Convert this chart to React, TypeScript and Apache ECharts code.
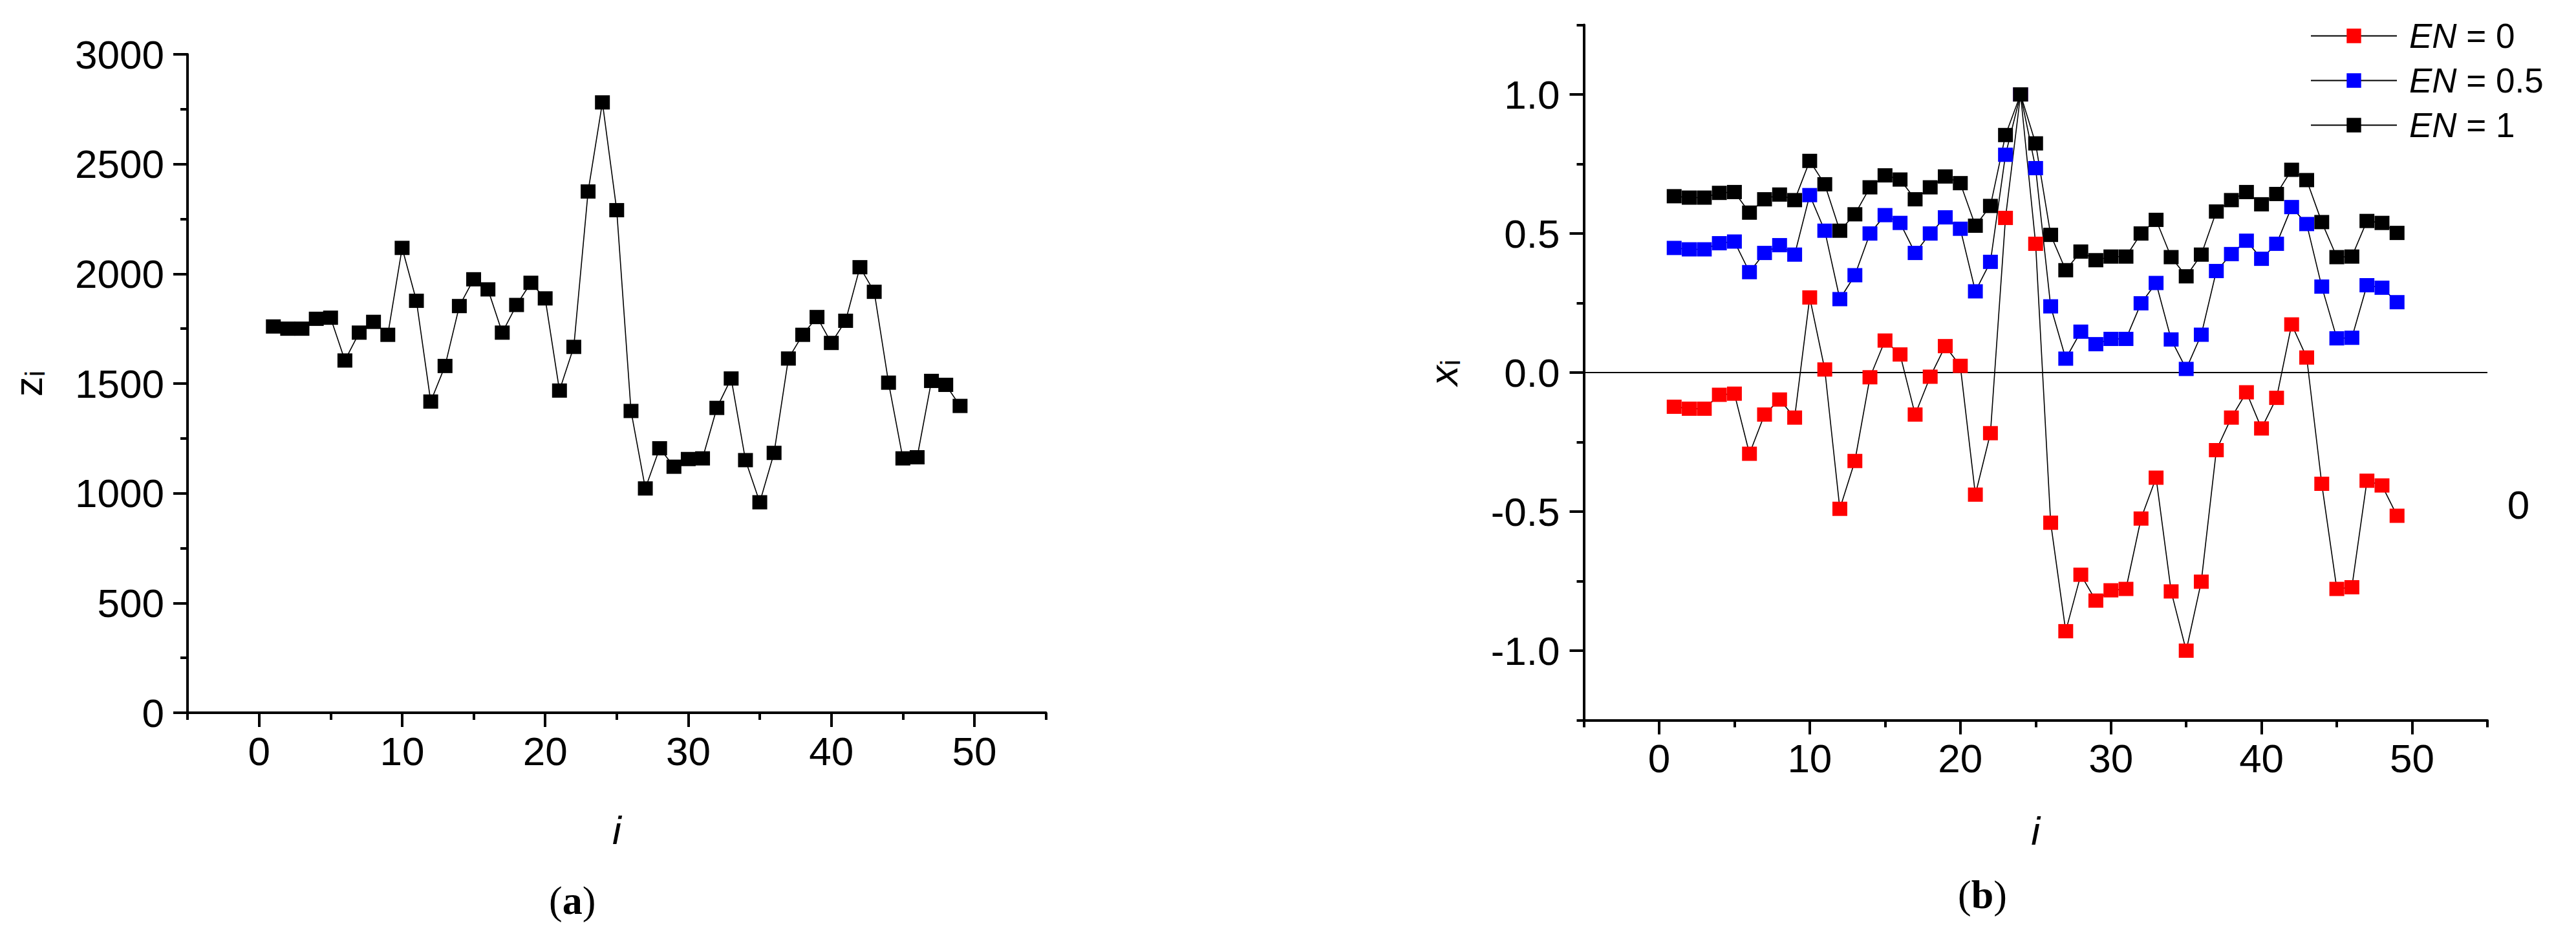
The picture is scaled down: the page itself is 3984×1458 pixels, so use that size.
import React, { useEffect, useRef } from "react";
import * as echarts from "echarts";

const I_VALUES = [1,2,3,4,5,6,7,8,9,10,11,12,13,14,15,16,17,18,19,20,21,22,23,24,25,26,27,28,29,30,31,32,33,34,35,36,37,38,39,40,41,42,43,44,45,46,47,48,49];

const Z_VALUES = [1760,1750,1750,1795,1800,1605,1732,1781,1722,2118,1877,1418,1580,1853,1975,1929,1732,1858,1959,1888,1468,1667,2375,2781,2290,1375,1022,1205,1121,1156,1159,1389,1523,1151,959,1184,1614,1722,1803,1685,1786,2030,1918,1504,1159,1164,1512,1494,1398];

const EN0_VALUES = [-0.123,-0.13,-0.13,-0.08,-0.076,-0.292,-0.151,-0.097,-0.162,0.27,0.011,-0.49,-0.318,-0.017,0.115,0.065,-0.151,-0.015,0.095,0.024,-0.439,-0.218,0.556,1.0,0.463,-0.54,-0.93,-0.727,-0.82,-0.783,-0.778,-0.525,-0.378,-0.787,-1.0,-0.752,-0.279,-0.162,-0.071,-0.201,-0.091,0.173,0.054,-0.4,-0.778,-0.772,-0.389,-0.406,-0.515];

const EN05_VALUES = [0.448,0.443,0.443,0.465,0.471,0.361,0.43,0.458,0.424,0.638,0.51,0.264,0.35,0.5,0.566,0.538,0.43,0.5,0.558,0.517,0.292,0.398,0.783,1.0,0.735,0.238,0.05,0.147,0.102,0.121,0.121,0.249,0.322,0.119,0.013,0.136,0.365,0.426,0.474,0.409,0.463,0.595,0.534,0.309,0.123,0.125,0.314,0.305,0.253];

const EN1_VALUES = [0.634,0.629,0.629,0.646,0.649,0.575,0.623,0.64,0.62,0.761,0.677,0.51,0.569,0.666,0.709,0.694,0.623,0.666,0.705,0.681,0.528,0.599,0.854,1.0,0.824,0.495,0.368,0.435,0.404,0.417,0.417,0.5,0.549,0.415,0.346,0.424,0.579,0.62,0.649,0.605,0.642,0.729,0.692,0.541,0.415,0.417,0.545,0.538,0.502];

const SERIES_NAMES = ["EN = 0", "EN = 0.5", "EN = 1"];
const SERIES_COLORS = ["#ff0000", "#0000ff", "#000000"];

const X_MAJOR_TICKS = [0, 10, 20, 30, 40, 50];
const X_MINOR_TICKS = [-5, 5, 15, 25, 35, 45, 55];
const XI_MAJOR_TICKS = [-1, -0.5, 0, 0.5, 1];
const XI_MINOR_TICKS = [-1.25, -0.75, -0.25, 0.25, 0.75, 1.25];

const SANS = "'Liberation Sans', Arial, sans-serif";
const SERIF = "'Liberation Serif', 'Times New Roman', serif";
const AXIS_W = 4;
const LABEL_SIZE = 62;

function pairs(ys: number[]) {
  return I_VALUES.map((x, k) => [x, ys[k]]);
}

export default function App() {
  const ref = useRef<HTMLDivElement>(null);

  useEffect(() => {
    if (!ref.current) return;
    const chart = echarts.init(ref.current, null, { renderer: "svg" });

    const axisLine = { show: true, onZero: false, lineStyle: { color: "#000", width: AXIS_W } };
    const hiddenLine = { show: false, onZero: false };
    const majorTick = (vals: number[]) => ({
      show: true,
      customValues: vals,
      length: 22,
      lineStyle: { color: "#000", width: AXIS_W },
    });
    const minorTickAxis = (vals: number[]) => ({
      show: true,
      customValues: vals,
      length: 11,
      lineStyle: { color: "#000", width: AXIS_W },
    });
    const labelStyle = {
      color: "#000",
      fontSize: LABEL_SIZE,
      fontFamily: SANS,
    };

    const lineSeries = (name: string, data: number[][], color: string, xi: number, yi: number) => ({
      name,
      type: "line",
      xAxisIndex: xi,
      yAxisIndex: yi,
      data,
      symbol: "rect",
      symbolSize: [23, 22],
      itemStyle: { color },
      lineStyle: { color: "#000", width: 1.6 },
      emphasis: { disabled: true },
    });

    const option: any = {
      animation: false,
      backgroundColor: "#fff",
      grid: [
        { left: 290, top: 84, width: 1327.6, height: 1018, containLabel: false },
        { left: 2449.5, top: 38.5, width: 1397.5, height: 1075, containLabel: false },
      ],
      xAxis: [
        {
          gridIndex: 0,
          type: "value",
          position: "bottom",
          min: -5,
          max: 55,
          axisLine,
          axisTick: majorTick(X_MAJOR_TICKS),
          axisLabel: { ...labelStyle, customValues: X_MAJOR_TICKS, margin: 28 },
          splitLine: { show: false },
          name: "i",
          nameLocation: "middle",
          nameGap: 150,
          nameTextStyle: { ...labelStyle, fontStyle: "italic" },
        },
        {
          gridIndex: 0,
          type: "value",
          position: "bottom",
          min: -5,
          max: 55,
          axisLine: hiddenLine,
          axisTick: minorTickAxis(X_MINOR_TICKS),
          axisLabel: { show: false },
          splitLine: { show: false },
        },
        {
          gridIndex: 1,
          type: "value",
          position: "bottom",
          min: -5,
          max: 55,
          axisLine,
          axisTick: majorTick(X_MAJOR_TICKS),
          axisLabel: { ...labelStyle, customValues: X_MAJOR_TICKS, margin: 28 },
          splitLine: { show: false },
          name: "i",
          nameLocation: "middle",
          nameGap: 140,
          nameTextStyle: { ...labelStyle, fontStyle: "italic" },
        },
        {
          gridIndex: 1,
          type: "value",
          position: "bottom",
          min: -5,
          max: 55,
          axisLine: hiddenLine,
          axisTick: minorTickAxis(X_MINOR_TICKS),
          axisLabel: { show: false },
          splitLine: { show: false },
        },
      ],
      yAxis: [
        {
          gridIndex: 0,
          type: "value",
          position: "left",
          min: 0,
          max: 3000,
          interval: 500,
          axisLine,
          axisTick: { show: true, length: 22, lineStyle: { color: "#000", width: AXIS_W } },
          minorTick: { show: true, splitNumber: 2, length: 11, lineStyle: { color: "#000", width: AXIS_W } },
          minorSplitLine: { show: false },
          axisLabel: { ...labelStyle, margin: 36, formatter: (v: number) => String(v) },
          splitLine: { show: false },
          name: "{v|z}{s|i}",
          nameLocation: "middle",
          nameGap: 215,
          nameRotate: 90,
          nameTextStyle: {
            rich: {
              v: { fontSize: 62, fontFamily: SANS, color: "#000" },
              s: { fontSize: 42, fontFamily: SANS, color: "#000", padding: [22, 0, 0, 0] },
            },
          },
        },
        {
          gridIndex: 1,
          type: "value",
          position: "left",
          min: -1.25,
          max: 1.25,
          axisLine,
          axisTick: majorTick(XI_MAJOR_TICKS),
          axisLabel: {
            ...labelStyle,
            customValues: XI_MAJOR_TICKS,
            margin: 37,
            formatter: (v: number) => v.toFixed(1),
          },
          splitLine: { show: false },
          name: "{v|x}{s|i}",
          nameLocation: "middle",
          nameGap: 185,
          nameRotate: 90,
          nameTextStyle: {
            rich: {
              v: { fontSize: 62, fontFamily: SANS, fontStyle: "italic", color: "#000" },
              s: { fontSize: 42, fontFamily: SANS, color: "#000", padding: [22, 0, 0, 0] },
            },
          },
        },
        {
          gridIndex: 1,
          type: "value",
          position: "left",
          min: -1.25,
          max: 1.25,
          axisLine: hiddenLine,
          axisTick: minorTickAxis(XI_MINOR_TICKS),
          axisLabel: { show: false },
          splitLine: { show: false },
        },
      ],
      legend: {
        data: SERIES_NAMES,
        orient: "vertical",
        left: 3573,
        top: 29,
        padding: 0,
        itemWidth: 133,
        itemHeight: 28,
        itemGap: 16,
        formatter: (name: string) => "{it|EN}" + name.slice(2),
        textStyle: {
          color: "#000",
          fontSize: 53,
          fontFamily: SANS,
          lineHeight: 53,
          padding: [0, 0, 0, 14],
          rich: {
            it: { fontStyle: "italic", fontSize: 53, fontFamily: SANS, color: "#000" },
          },
        },
      },
      graphic: [
        {
          type: "text",
          left: 889 - 40,
          top: 1395 - 34,
          style: {
            text: "{n|(}{b|a}{n|)}",
            rich: {
              n: { fontFamily: SERIF, fontSize: 62, fill: "#000" },
              b: { fontFamily: SERIF, fontSize: 62, fontWeight: "bold", fill: "#000" },
            },
          },
        },
        {
          type: "text",
          left: 3068 - 40,
          top: 1386 - 34,
          style: {
            text: "{n|(}{b|b}{n|)}",
            rich: {
              n: { fontFamily: SERIF, fontSize: 62, fill: "#000" },
              b: { fontFamily: SERIF, fontSize: 62, fontWeight: "bold", fill: "#000" },
            },
          },
        },
        {
          type: "text",
          x: 3895,
          y: 780,
          style: {
            text: "0",
            fontFamily: SANS,
            fontSize: LABEL_SIZE,
            fill: "#000",
            align: "center",
            verticalAlign: "middle",
          },
        },
      ],
      series: [
        {
          name: "z",
          type: "line",
          xAxisIndex: 0,
          yAxisIndex: 0,
          data: pairs(Z_VALUES),
          symbol: "rect",
          symbolSize: [23, 22],
          itemStyle: { color: "#000" },
          lineStyle: { color: "#000", width: 1.6 },
          emphasis: { disabled: true },
        },
        {
          ...lineSeries(SERIES_NAMES[0], pairs(EN0_VALUES), SERIES_COLORS[0], 2, 1),
          markLine: {
            silent: true,
            symbol: ["none", "none"],
            label: { show: false },
            lineStyle: { color: "#000", width: 2, type: "solid" },
            data: [{ yAxis: 0 }],
            z: 1,
          },
        },
        lineSeries(SERIES_NAMES[1], pairs(EN05_VALUES), SERIES_COLORS[1], 2, 1),
        lineSeries(SERIES_NAMES[2], pairs(EN1_VALUES), SERIES_COLORS[2], 2, 1),
      ],
    };

    chart.setOption(option);
    return () => chart.dispose();
  }, []);

  return (
    <div
      ref={ref}
      style={{ position: "fixed", left: 0, top: 0, width: 3984, height: 1458, background: "#fff" }}
    />
  );
}
